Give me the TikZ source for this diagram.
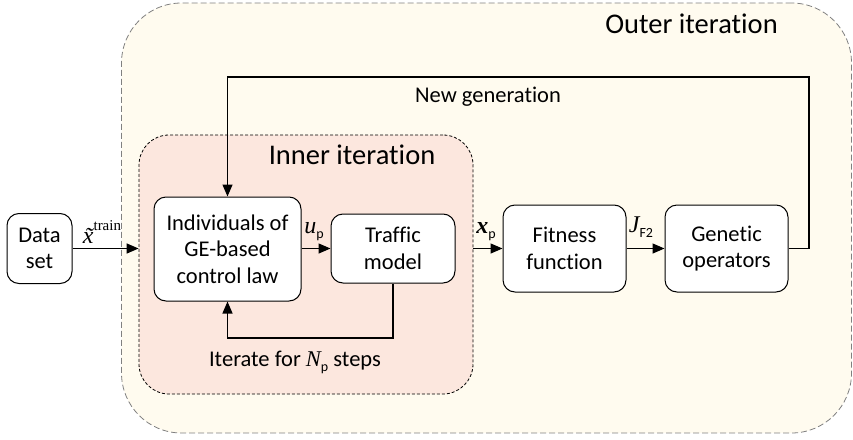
\documentclass[tikz,border=0pt]{standalone}
\usepackage{fontspec}
\setmainfont{Carlito}[Ligatures=NoCommon]
\newfontfamily\lserif{Liberation Serif}
\usetikzlibrary{arrows.meta}
\definecolor{outerfill}{RGB}{255,251,239}
\definecolor{innerfill}{RGB}{252,231,222}
\newcommand{\var}[1]{{\lserif\itshape #1}}
\newcommand{\bvar}[1]{{\lserif\itshape\bfseries #1}}
\newcommand{\lowsub}[1]{\raisebox{-0.45ex}{\fontsize{14}{14}\selectfont #1}}
\tikzset{
  block/.style={draw, line width=1pt, rounded corners=12pt, fill=white, align=center,
    font=\fontsize{22.5}{26.5}\selectfont, inner sep=0pt},
  flow/.style={line width=1.3pt, -{Triangle[length=12pt,width=10pt]}},
  sym/.style={font=\fontsize{24}{24}\selectfont, inner sep=0pt},
  caption/.style={font=\fontsize{22.5}{26.5}\selectfont, inner sep=0pt},
  title/.style={font=\fontsize{28.5}{28.5}\selectfont, inner sep=0pt}
}
\begin{document}
\begin{tikzpicture}[x=1pt,y=-1pt]
\useasboundingbox (0,0) rectangle (853,439);

% outer and inner iteration regions
\node[draw=gray, dash pattern=on 6pt off 3pt, line width=0.8pt, fill=outerfill,
  rounded corners=60pt, minimum width=730pt, minimum height=430pt, inner sep=0pt]
  (outer) at (486.5,218) {};
\node[draw=black, dash pattern=on 3pt off 2pt, line width=0.8pt, fill=innerfill,
  rounded corners=30pt, minimum width=334pt, minimum height=259pt, inner sep=0pt]
  (inner) at (306,264.5) {};
\node[title] (outertitle) at (691.5,24) {Outer iteration};
\node[title] (innertitle) at (352,155) {Inner iteration};

% blocks
\node[block, minimum width=65pt, minimum height=70pt] (data) at (39.5,248.5) {Data\\set};
\node[block, minimum width=147pt, minimum height=104pt] (indiv) at (227.5,249)
  {Individuals of\\GE-based\\control law};
\node[block, minimum width=124pt, minimum height=69pt] (traffic) at (393,248.5) {Traffic\\model};
\node[block, minimum width=123pt, minimum height=87pt] (fitness) at (564.5,248.5) {Fitness\\function};
\node[block, minimum width=123pt, minimum height=87pt] (genetic) at (726.5,248.5) {Genetic\\operators};

% forward path
\draw[flow] (data.east) -- (data.east -| inner.west);
\draw[flow] (indiv.east |- traffic.west) -- (traffic.west);
\draw[flow] (inner.east |- fitness.west) -- (fitness.west);
\draw[flow] (fitness.east) -- (genetic.west);

% signal labels
\node[sym] (xtrain) at (102,232) {\var{x^^^^0303}\raisebox{1.1ex}{\lserif\fontsize{15}{15}\selectfont train}};
\node[sym] (ulab) at (314,232) {\var{u}\lowsub{p}};
\node[sym] (xlab) at (486,232) {\bvar{x}\lowsub{p}};
\node[sym] (jlab) at (641,227) {\var{J}\lowsub{F2}};

% outer feedback: new generation
\coordinate (fbcorner) at (809,77);
\draw[flow] (genetic.east) -| (fbcorner) -| (indiv.north);
\node[caption] (newgen) at (488,97) {New generation};

% inner feedback: iterate
\coordinate (loopcorner) at (393,338);
\draw[flow] (traffic.south) -- (loopcorner) -| (indiv.south);
\node[caption] (iterlab) at (295,362) {Iterate for \var{N}\lowsub{p} steps};
\end{tikzpicture}
\end{document}
